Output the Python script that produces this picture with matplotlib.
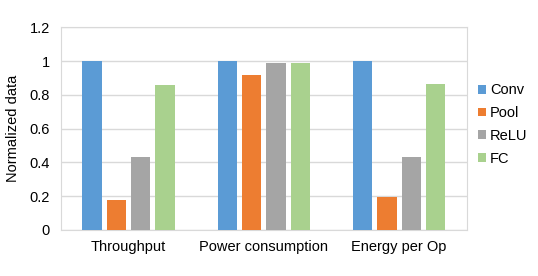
import matplotlib.pyplot as plt
import numpy as np

plt.rcParams['font.family'] = ['Liberation Sans', 'DejaVu Sans']

categories = ["Throughput", "Power consumption", "Energy per Op"]
series = ["Conv", "Pool", "ReLU", "FC"]
conv = [1.0, 1.0, 1.0]
pool = [0.18, 0.915, 0.197]
relu = [0.43, 0.99, 0.434]
fc = [0.856, 0.99, 0.864]
colors = ["#5B9BD5", "#ED7D31", "#A5A5A5", "#A9D18E"]

fig = plt.figure(figsize=(5.38, 2.76), dpi=100)
ax = fig.add_axes([0.1134, 0.1667, 0.754, 0.7344])

x = np.arange(len(categories))
width = 0.143
pitch = 0.18
for i, (vals, name) in enumerate(zip([conv, pool, relu, fc], series)):
    ax.bar(x + (i - 1.5) * pitch, vals, width, color=colors[i], label=name, zorder=3)

ax.set_xlim(-0.5, 2.5)
ax.set_ylim(0, 1.2)
ax.set_yticks([0, 0.2, 0.4, 0.6, 0.8, 1, 1.2])
ax.set_yticklabels(["0", "0.2", "0.4", "0.6", "0.8", "1", "1.2"])
ax.set_xticks(x)
ax.set_xticklabels(categories)
ax.tick_params(length=0, labelsize=10.5, colors="#000000")
ax.tick_params(axis="y", pad=8)
ax.tick_params(axis="x", pad=7)
ax.grid(axis="y", color="#D9D9D9", linewidth=1, zorder=0)
for s in ax.spines.values():
    s.set_color("#D9D9D9")
ax.set_ylabel("Normalized data", fontsize=10.5, labelpad=7)

ax.legend(loc="center left", bbox_to_anchor=(0.995, 0.52), frameon=False,
          fontsize=10.5, handlelength=0.55, handleheight=0.55, handletextpad=0.3,
          labelspacing=0.6)

fig.savefig("out.png", dpi=100)
